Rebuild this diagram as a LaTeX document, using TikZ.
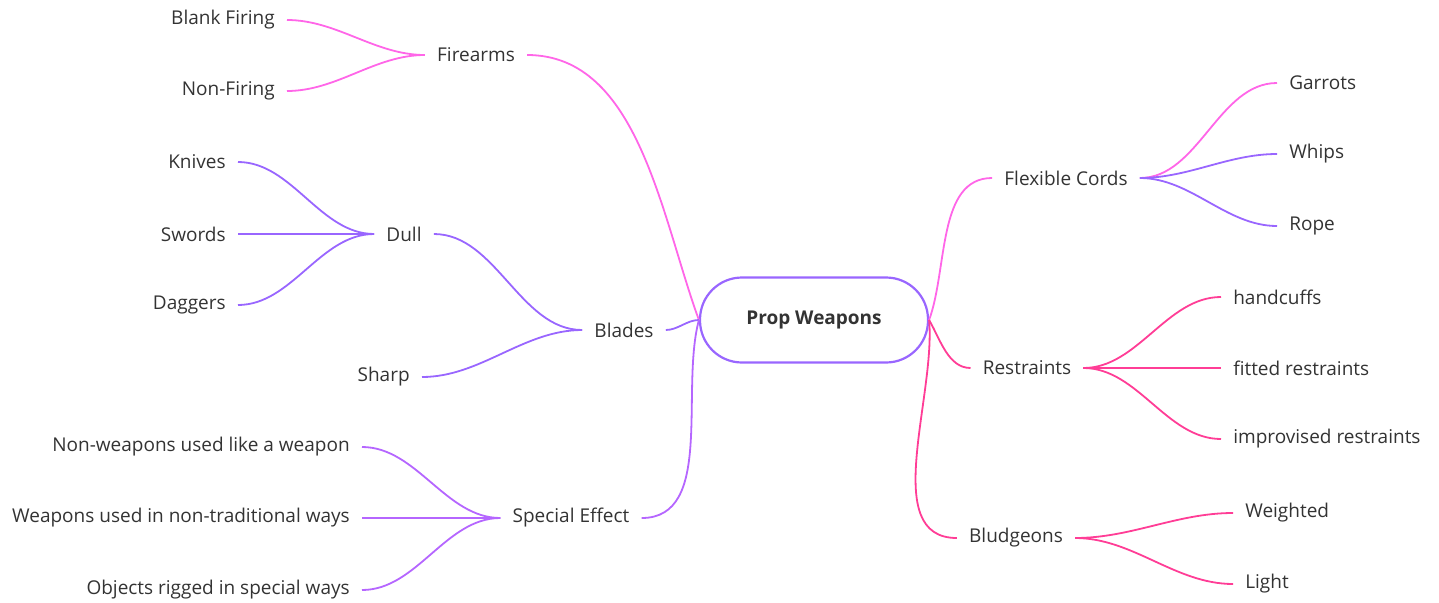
\documentclass[tikz,border=0pt]{standalone}
\usepackage{fontspec}
\setmainfont{Open Sans}
\usetikzlibrary{arrows,shapes}
\definecolor{pinkline}{HTML}{FF66E8}
\definecolor{purpleline}{HTML}{9966FF}
\definecolor{violetline}{HTML}{B566FF}
\definecolor{roseline}{HTML}{FF3D96}
\definecolor{labeltext}{HTML}{333333}
\begin{document}
\begin{tikzpicture}[x=1pt,y=-1pt,semithick,
    every node/.style={text=labeltext,font=\fontsize{19}{23}\selectfont,inner xsep=12pt,inner ysep=2pt},
    link/.style={line width=1.8pt,looseness=0.9}]
            \useasboundingbox (0,0) rectangle (1439,602);
            % centre
            \node[draw=purpleline,line width=2.2pt,rounded corners=42pt,minimum width=228pt,minimum height=85pt,font=\fontsize{19}{23}\selectfont\bfseries](Root)at(814, 320){Prop Weapons};
            % left branches
            \node(Firearms)at(476, 55){Firearms};
            \node[anchor=east](BlankFiring)at(287, 20){Blank Firing};
            \node[anchor=east](NonFiring)at(287, 91){Non-Firing};
            \node(Blades)at(624, 330){Blades};
            \node(Dull)at(404, 234){Dull};
            \node[anchor=east](Knives)at(238, 162){Knives};
            \node[anchor=east](Swords)at(238, 234){Swords};
            \node[anchor=east](Daggers)at(238, 305){Daggers};
            \node[anchor=east](Sharp)at(422, 377){Sharp};
            \node(SpecialEffect)at(571, 518){Special Effect};
            \node[anchor=east](NonWeapons)at(362, 447){Non-weapons used like a weapon};
            \node[anchor=east](NonTraditional)at(362, 518){Weapons used in non-traditional ways};
            \node[anchor=east](Rigged)at(362, 590){Objects rigged in special ways};
            % right branches
            \node(FlexibleCords)at(1066, 178){Flexible Cords};
            \node[anchor=west](Garrots)at(1277, 83){Garrots};
            \node[anchor=west](Whips)at(1277, 154){Whips};
            \node[anchor=west](Rope)at(1277, 226){Rope};
            \node(Restraints)at(1027, 368){Restraints};
            \node[anchor=west](Handcuffs)at(1221, 297){handcuffs};
            \node[anchor=west](Fitted)at(1221, 368){fitted restraints};
            \node[anchor=west](Improvised)at(1221, 439){improvised restraints};
            \node(Bludgeons)at(1016, 538){Bludgeons};
            \node[anchor=west](Weighted)at(1233, 513){Weighted};
            \node[anchor=west](Light)at(1233, 584){Light};
            \path[link,draw=pinkline](Firearms.east) edge[out=0,in=110] (Root.west)
            (Firearms.west) edge[out=180,in=0] (BlankFiring.east)
            (Firearms.west) edge[out=180,in=0] (NonFiring.east);
            \path[link,draw=purpleline](Blades.east) edge[out=0,in=180] (Root.west)
            (Blades.west) edge[out=180,in=0] (Dull.east)
            (Blades.west) edge[out=180,in=0] (Sharp.east)
            (Dull.west) edge[out=180,in=0] (Knives.east)
            (Dull.west) edge[out=180,in=0] (Swords.east)
            (Dull.west) edge[out=180,in=0] (Daggers.east);
            \path[link,draw=violetline](SpecialEffect.east) edge[out=0,in=-105] (Root.west)
            (SpecialEffect.west) edge[out=180,in=0] (NonWeapons.east)
            (SpecialEffect.west) edge[out=180,in=0] (NonTraditional.east)
            (SpecialEffect.west) edge[out=180,in=0] (Rigged.east);
            \path[link,draw=pinkline](FlexibleCords.west) edge[out=180,in=70] (Root.east)
            (FlexibleCords.east) edge[out=0,in=180] (Garrots.west);
            \path[link,draw=purpleline](FlexibleCords.east) edge[out=0,in=180] (Whips.west)
            (FlexibleCords.east) edge[out=0,in=180] (Rope.west);
            \path[link,draw=roseline](Restraints.west) edge[out=180,in=-60] (Root.east)
            (Restraints.east) edge[out=0,in=180] (Handcuffs.west)
            (Restraints.east) edge[out=0,in=180] (Fitted.west)
            (Restraints.east) edge[out=0,in=180] (Improvised.west)
            (Bludgeons.west) edge[out=180,in=-85] (Root.east)
            (Bludgeons.east) edge[out=0,in=180] (Weighted.west)
            (Bludgeons.east) edge[out=0,in=180] (Light.west);
        \end{tikzpicture}
\end{document}
